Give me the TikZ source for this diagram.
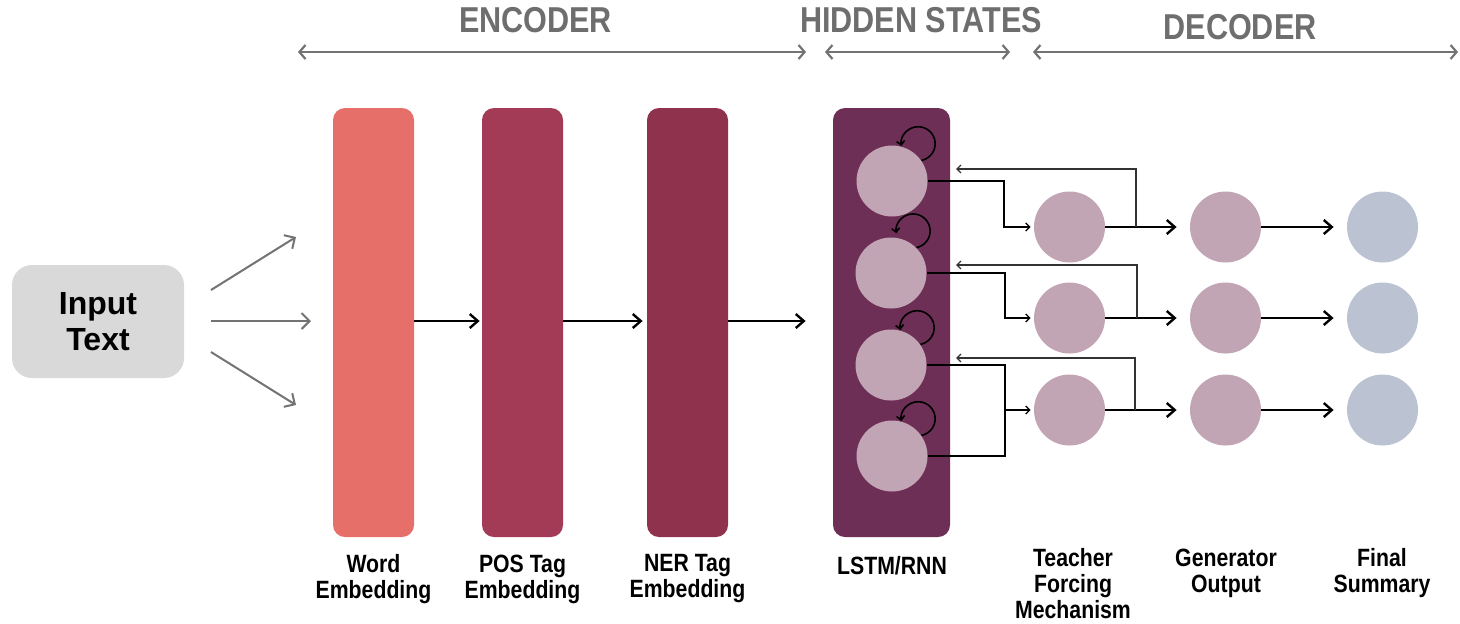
\documentclass[tikz,border=0pt]{standalone}
\usepackage{fontspec}
\setmainfont{Liberation Sans}
\newfontfamily\narrowfont[FakeStretch=0.85]{Liberation Sans}
\usetikzlibrary{arrows.meta,calc}

\definecolor{inputgrey}{HTML}{D9D9D9}
\definecolor{spangrey}{HTML}{737373}
\definecolor{labelgrey}{HTML}{6E6E6E}
\definecolor{wordcol}{HTML}{E76F6A}
\definecolor{poscol}{HTML}{A33B56}
\definecolor{nercol}{HTML}{8F324D}
\definecolor{lstmcol}{HTML}{6E2F56}
\definecolor{cellcol}{HTML}{C1A5B4}
\definecolor{outcol}{HTML}{BBC3D2}

\begin{document}
\begin{tikzpicture}[x=0.5pt,y=-0.5pt,
  bar/.style={rectangle, rounded corners=6pt, minimum width=40.5pt,
    minimum height=214.5pt, inner sep=0pt, draw=none},
  dot/.style={circle, minimum size=35.5pt, inner sep=0pt, draw=none},
  lbl/.style={font=\narrowfont\bfseries\fontsize{12.5}{13}\selectfont,
    align=center, inner sep=0pt},
  head/.style={font=\narrowfont\bfseries\fontsize{18}{20}\selectfont,
    text=labelgrey, inner sep=0pt},
  span/.style={draw=spangrey, line width=1.1pt,
    {Straight Barb[length=3pt,width=7pt]}-{Straight Barb[length=3pt,width=7pt]}},
  fan/.style={draw=spangrey, line width=1pt,
    -{Straight Barb[length=4pt,width=8pt]}},
  flow/.style={draw=black, line width=1.2pt,
    -{Straight Barb[length=4pt,width=7pt]}},
  link/.style={draw=black, line width=0.65pt},
  linkarrow/.style={link, -{Straight Barb[length=2pt,width=4pt]}},
  back/.style={draw=black!80, line width=0.65pt,
    -{Straight Barb[length=2pt,width=4pt]}},
  selfloop/.style={draw=black, line width=0.8pt,
    -{Straight Barb[length=2pt,width=4pt]}},
]
\useasboundingbox (0,0) rectangle (1460,623);

% section headings with their spans
\node[head] (enc) at (535.5,20) {ENCODER};
\node[head] (hid) at (921,20) {HIDDEN STATES};
\node[head] (dec) at (1240,27) {DECODER};
\coordinate (encL) at (298,52);  \coordinate (encR) at (806,52);
\coordinate (hidL) at (825,52);  \coordinate (hidR) at (1010,52);
\coordinate (decL) at (1033,52); \coordinate (decR) at (1458,52);
\draw[span] (encL) -- (encR);
\draw[span] (hidL) -- (hidR);
\draw[span] (decL) -- (decR);

% input
\node[rectangle, rounded corners=10pt, fill=inputgrey, minimum width=86pt,
  minimum height=56.5pt, inner sep=0pt, align=center,
  font=\bfseries\fontsize{16}{18}\selectfont] (in) at (98,321.5) {Input\\Text};

% encoder layers
\node[bar, fill=wordcol] (word) at (373.5,322.5) {};
\node[bar, fill=poscol]  (pos)  at (522.5,322.5) {};
\node[bar, fill=nercol]  (ner)  at (687.5,322.5) {};
\node[bar, fill=lstmcol, minimum width=58.5pt] (lstm) at (891.5,322.5) {};

% input fan-out
\coordinate (fa) at (211,290); \coordinate (fb) at (211,321); \coordinate (fc) at (211,352);
\coordinate (ea) at (296,237); \coordinate (eb) at (311,321); \coordinate (ec) at (296,405);
\draw[fan] (fa) -- (ea);
\draw[fan] (fb) -- (eb);
\draw[fan] (fc) -- (ec);

% encoder flow
\draw[flow, shorten >=1pt] (word.east |- 0,321) -- (pos.west |- 0,321);
\draw[flow, shorten >=2pt] (pos.east |- 0,321) -- (ner.west |- 0,321);
\draw[flow, shorten >=13.5pt] (ner.east |- 0,321) -- (lstm.west |- 0,321);

% hidden cells
\node[dot, fill=cellcol] (h1) at (892,181) {};
\node[dot, fill=cellcol] (h2) at (891,273) {};
\node[dot, fill=cellcol] (h3) at (891,365) {};
\node[dot, fill=cellcol] (h4) at (892,456) {};
\foreach \h in {h1,h3,h4}
  \draw[selfloop] (\h.35) arc[start angle=-79, end angle=188, radius=8.5pt];
\draw[selfloop] (h2.45) arc[start angle=-79, end angle=188, radius=8.5pt];

% decoder columns
\node[dot, fill=cellcol] (t1) at (1069.5,227) {};
\node[dot, fill=cellcol] (t2) at (1069.5,318) {};
\node[dot, fill=cellcol] (t3) at (1069.5,410) {};
\node[dot, fill=cellcol] (g1) at (1225.5,227) {};
\node[dot, fill=cellcol] (g2) at (1225.5,318) {};
\node[dot, fill=cellcol] (g3) at (1225.5,410) {};
\node[dot, fill=outcol]  (f1) at (1382.5,227) {};
\node[dot, fill=outcol]  (f2) at (1382.5,318) {};
\node[dot, fill=outcol]  (f3) at (1382.5,410) {};

% hidden state to teacher forcing
\coordinate (j1) at (1004,227);
\coordinate (j2) at (1005,318);
\coordinate (j3) at (1005,410);
\coordinate (j4) at (1005,456);
\draw[linkarrow, shorten >=1.5pt] (h1.east) -| (j1) -- (t1.west);
\draw[linkarrow, shorten >=1.5pt] (h2.east) -| (j2) -- (t2.west);
\draw[link] (h3.east) -| (j4) -- (h4.east);
\draw[linkarrow, shorten >=1.5pt] (j3) -- (t3.west);

% teacher forcing to generator to summary
\foreach \i in {1,2,3} {
  \draw[flow, shorten >=6.5pt] (t\i) -- (g\i);
  \draw[flow, shorten >=6.5pt] (g\i) -- (f\i);
}

% feedback into the hidden states
\coordinate (b1) at (1136,227); \coordinate (r1) at (956,169);
\coordinate (b2) at (1137,318); \coordinate (r2) at (956,265);
\coordinate (b3) at (1135,410); \coordinate (r3) at (956,358);
\draw[back] (b1) |- (r1);
\draw[back] (b2) |- (r2);
\draw[back] (b3) |- (r3);

% captions
\node[lbl] (lw) at (373.5,579) {Word\\Embedding};
\node[lbl] (lp) at (522.5,579) {POS Tag\\Embedding};
\node[lbl] (ln) at (687.5,579) {NER Tag\\Embedding};
\node[lbl] (ll) at (892,566) {LSTM/RNN};
\node[lbl] (lt) at (1073,584) {Teacher\\Forcing\\Mechanism};
\node[lbl] (lg) at (1226,573) {Generator\\Output};
\node[lbl] (lf) at (1382,573) {Final\\Summary};
\end{tikzpicture}
\end{document}
